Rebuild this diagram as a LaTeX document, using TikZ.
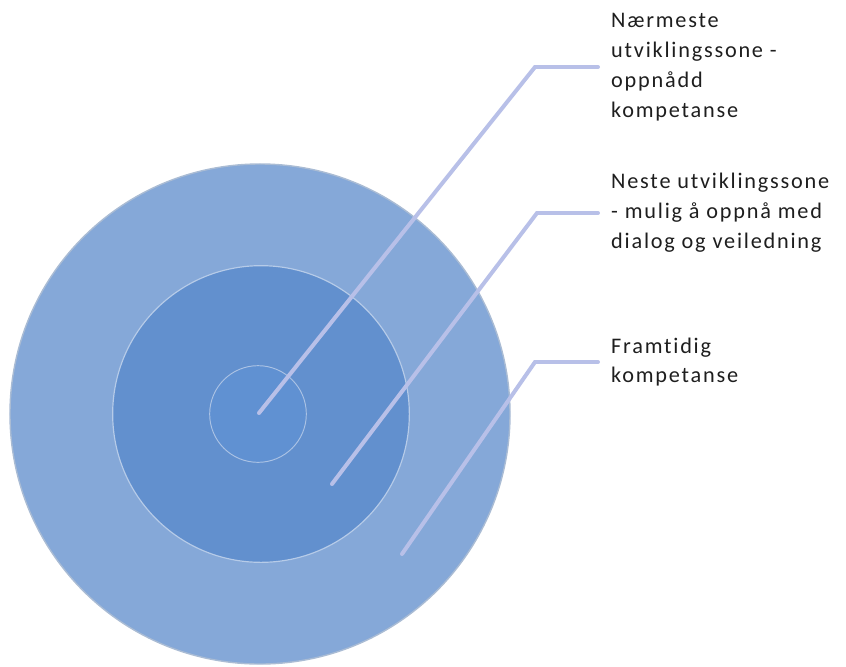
\documentclass[tikz,border=0pt]{standalone}
\usepackage{fontspec}
\setmainfont{Carlito}[LetterSpace=8,Ligatures=NoCommon]
\usepackage{xcolor}
\usetikzlibrary{positioning,calc}
\definecolor{ringout}{RGB}{133,168,216}
\definecolor{ringmid}{RGB}{98,144,206}
\definecolor{ringin}{RGB}{96,145,210}
\definecolor{leader}{RGB}{184,192,232}
\definecolor{labtext}{RGB}{30,30,30}

\begin{document}
\begin{tikzpicture}[x=0.03cm,y=-0.03cm,
  ring/.style={circle,inner sep=0pt},
  lead/.style={draw=leader,line width=3.4pt,line cap=round},
  lab/.style={anchor=west,align=left,inner xsep=0.39cm,inner ysep=0pt,text=labtext,
    font=\fontsize{19}{25.5}\selectfont}]
\useasboundingbox (0,0) rectangle (846,666);
% target rings
\node[ring,fill=ringout,draw=ringout!85!black!60!white,line width=1.2pt,minimum size=15cm] (outer) at (260,414) {};
\node[ring,fill=ringmid,draw=ringout!60!white,line width=1pt,minimum size=8.9cm] (middle) at (261,414) {};
\node[ring,fill=ringin,draw=ringout!70!white,line width=0.8pt,minimum size=2.9cm] (inner) at (258,414) {};
% labels
\node[lab] (l1) at (598,67) {Nærmeste\\utviklingssone -\\oppnådd\\kompetanse};
\node[lab] (l2) at (598,213) {Neste utviklingssone\\- mulig å oppnå med\\dialog og veiledning};
\node[lab] (l3) at (598,362) {Framtidig\\kompetanse};
% leader lines
\coordinate (p1) at (259,413);
\coordinate (p2) at (332,484);
\coordinate (p3) at (402,554);
\draw[lead] (p1) -- (535,67) -- (l1.west);
\draw[lead] (p2) -- (537,213) -- (l2.west);
\draw[lead] (p3) -- (535,362) -- (l3.west);
\end{tikzpicture}
\end{document}
